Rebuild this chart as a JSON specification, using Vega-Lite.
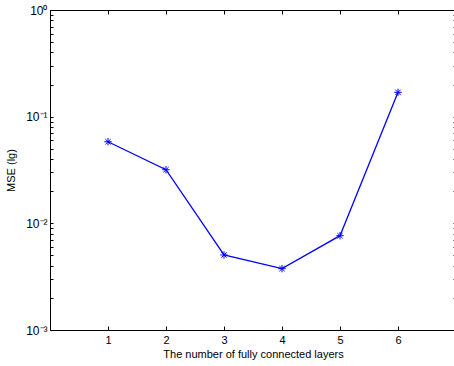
{
  "$schema": "https://vega.github.io/schema/vega-lite/v6.json",
  "autosize": "none",
  "padding": {"left": 50, "top": 10, "right": 0, "bottom": 36},
  "width": 406,
  "height": 320,
  "background": "white",
  "config": {
    "view": {"stroke": "black", "strokeWidth": 1},
    "font": "Liberation Sans",
    "axis": {
      "domainColor": "black",
      "tickColor": "black",
      "labelColor": "black",
      "titleColor": "black",
      "labelFont": "Liberation Sans",
      "titleFont": "Liberation Sans",
      "labelFontSize": 11,
      "titleFontSize": 11,
      "titleFontWeight": "normal",
      "grid": false
    }
  },
  "data": {
    "values": [
      {"layers": 1, "mse": 0.0582},
      {"layers": 2, "mse": 0.0318},
      {"layers": 3, "mse": 0.00505},
      {"layers": 4, "mse": 0.00376},
      {"layers": 5, "mse": 0.00766},
      {"layers": 6, "mse": 0.169}
    ]
  },
  "layer": [
    {
      "mark": {"type": "line", "color": "#0000ff", "strokeWidth": 1.3},
      "encoding": {
        "x": {
          "field": "layers", "type": "quantitative",
          "scale": {"domain": [0, 7], "nice": false, "zero": false},
          "axis": {
            "orient": "bottom", "values": [1, 2, 3, 4, 5, 6],
            "tickSize": -4, "labelPadding": 8, "domain": true,
            "title": "The number of fully connected layers", "titlePadding": 3
          }
        },
        "y": {
          "field": "mse", "type": "quantitative",
          "scale": {"type": "log", "domain": [0.001, 1], "nice": false},
          "axis": {
            "orient": "left",
            "values": [0.001, 0.002, 0.003, 0.004, 0.005, 0.006, 0.007, 0.008, 0.009, 0.01, 0.02, 0.03, 0.04, 0.05, 0.06, 0.07, 0.08, 0.09, 0.1, 0.2, 0.3, 0.4, 0.5, 0.6, 0.7, 0.8, 0.9, 1],
            "labelExpr": "datum.value == 1 ? '10⁰' : (abs(datum.value - 0.1) < 1e-9 ? '10⁻¹' : (abs(datum.value - 0.01) < 1e-10 ? '10⁻²' : (abs(datum.value - 0.001) < 1e-11 ? '10⁻³' : '')))",
            "tickSize": -3, "labelPadding": 6, "labelFontSize": 12,
            "title": "MSE (lg)", "titlePadding": 9
          }
        }
      }
    },
    {
      "mark": {
        "type": "point",
        "shape": "M-1,0L1,0M0,-1L0,1M-0.7,-0.7L0.7,0.7M-0.7,0.7L0.7,-0.7",
        "filled": false, "color": "#0000ff", "strokeWidth": 1, "size": 55, "opacity": 1
      },
      "encoding": {
        "x": {
          "field": "layers", "type": "quantitative",
          "axis": {"orient": "top", "values": [1, 2, 3, 4, 5, 6], "tickSize": -4, "labels": false, "title": null, "domain": false}
        },
        "y": {
          "field": "mse", "type": "quantitative",
          "axis": {
            "orient": "right",
            "values": [0.001, 0.002, 0.003, 0.004, 0.005, 0.006, 0.007, 0.008, 0.009, 0.01, 0.02, 0.03, 0.04, 0.05, 0.06, 0.07, 0.08, 0.09, 0.1, 0.2, 0.3, 0.4, 0.5, 0.6, 0.7, 0.8, 0.9, 1],
            "tickSize": -3, "labels": false, "title": null, "domain": false
          }
        }
      }
    }
  ],
  "resolve": {"axis": {"x": "independent", "y": "independent"}}
}
